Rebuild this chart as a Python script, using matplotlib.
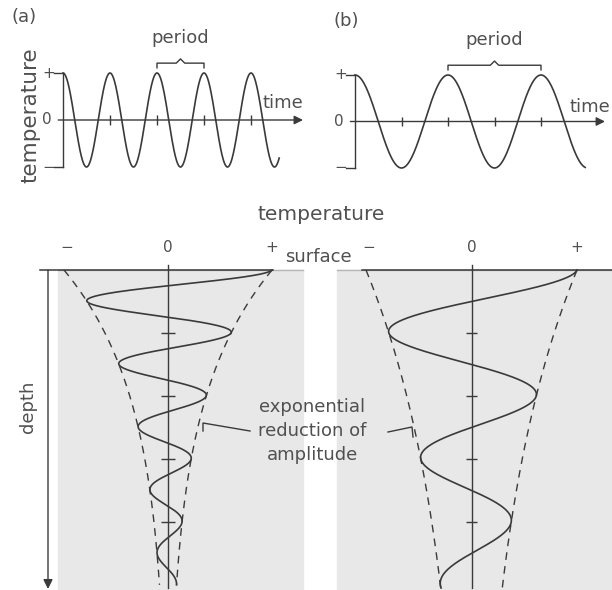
import numpy as np
import matplotlib.pyplot as plt
from matplotlib.patches import Rectangle

W, H = 612, 590

# surface temperature against time (time measured in short periods)
period_a = 1.0
period_b = 2.0
time_end_a = 4.6
time_end_b = 4.95
time_ticks_a = [1, 2, 3, 4]
time_ticks_b = [1, 2, 3, 4]
bracket_a = [2, 3]
bracket_b = [2, 4]

# temperature against depth (depth in tick units, temperature relative to surface amplitude)
wavelength_a = 1.0
wavelength_b = 2.0
decay_a = 2.0
decay_b = 4.1
depth_end_a = 5.0
depth_end_b = 5.05
depth_ticks = [1, 2, 3, 4]

ink = '#3a3a3a'
txt = '#505050'
shade = '#e8e8e8'

fig = plt.figure(figsize=(W / 100, H / 100), dpi=100)


def box(x0, y0, x1, y1):
    # axes placed by a pixel box measured from the top-left corner
    return fig.add_axes([x0 / W, 1 - y1 / H, (x1 - x0) / W, (y1 - y0) / H])


bg = box(0, 0, W, H)
bg.set_xlim(0, W)
bg.set_ylim(H, 0)
bg.axis('off')

# shaded ground below the surface
for x0, x1 in [(58, 303), (337, 612)]:
    bg.add_patch(Rectangle((x0, 270), x1 - x0, 320, color=shade, zorder=0))
    bg.plot([x0, x1], [270, 270], color='#b5b5b5', lw=1, zorder=1)


def time_panel(ax, period, t_end, ticks, bracket, xmax):
    ax.set_xlim(0, xmax)
    ax.set_ylim(-1, 1)
    ax.axis('off')
    kw = dict(color=ink, lw=1.0, clip_on=False)
    t = np.linspace(0, t_end, 500)
    ax.plot(t, np.cos(2 * np.pi * t / period), color=ink, lw=1.2, clip_on=False)
    ax.plot([0, 0], [-1, 1], **kw)
    ax.plot([-0.2, 0], [1, 1], **kw)
    ax.plot([-0.2, 0], [-1, -1], **kw)
    ax.annotate('', xy=(xmax, 0), xytext=(-0.1, 0), annotation_clip=False,
                arrowprops=dict(arrowstyle='-|>', color=ink, lw=1.0,
                                mutation_scale=13, shrinkA=0, shrinkB=0))
    ax.vlines(ticks, -0.1, 0.1, color=ink, lw=1.0)
    ax.text(-0.3, 1.0, '+', ha='center', va='center', color=txt, fontsize=11)
    ax.text(-0.35, 0.0, '0', ha='center', va='center', color=txt, fontsize=11)
    ax.text(-0.3, -1.0, '\u2212', ha='center', va='center', color=txt, fontsize=11)
    # brace marking one period
    t0, t1 = bracket
    tm = (t0 + t1) / 2
    ax.plot([t0, t0, tm - 0.09, tm, tm + 0.09, t1, t1],
            [1.11, 1.21, 1.21, 1.30, 1.21, 1.21, 1.11], **kw)
    ax.text(tm, 1.55, 'period', ha='center', va='bottom', color=txt, fontsize=13)


ax_a = box(63, 73, 303, 167)
time_panel(ax_a, period_a, time_end_a, time_ticks_a, bracket_a, 240 / 47)
ax_b = box(355, 75, 605, 168)
time_panel(ax_b, period_b, time_end_b, time_ticks_b, bracket_b, 250 / 46.5)

bg.text(24, 17, '(a)', ha='center', va='center', color=txt, fontsize=13)
bg.text(346, 21, '(b)', ha='center', va='center', color=txt, fontsize=13)
bg.text(30, 115, 'temperature', rotation=90, ha='center', va='center', color=txt, fontsize=15.5)
bg.text(283, 103, 'time', ha='center', va='center', color=txt, fontsize=13)
bg.text(590, 107, 'time', ha='center', va='center', color=txt, fontsize=13)


def depth_panel(ax, wavelength, decay, z_end, tick_half):
    ax.set_xlim(-1, 1)
    ax.set_ylim(5.05, 0)
    ax.axis('off')
    z = np.linspace(0, z_end, 800)
    env = np.exp(-z / decay)
    ax.plot(env * np.cos(2 * np.pi * z / wavelength), z, color=ink, lw=1.2, clip_on=False)
    for side in (1, -1):
        ax.plot(side * env, z, color=ink, lw=1.0, dashes=(5.5, 4.5), clip_on=False)
    ax.plot([0, 0], [-0.08, 5.05], color=ink, lw=1.0, clip_on=False)
    ax.hlines(depth_ticks, -tick_half, tick_half, color=ink, lw=1.0)
    for x, s in zip([-0.97, 0, 1], ['\u2212', '0', '+']):
        ax.text(x, -0.36, s, ha='center', va='center', color=txt, fontsize=11)


ax_c = box(64, 270, 272, 588)
depth_panel(ax_c, wavelength_a, decay_a, depth_end_a, 0.07)
ax_d = box(366, 270, 577, 588)
depth_panel(ax_d, wavelength_b, decay_b, depth_end_b, 0.05)

# surface line and depth arrow
bg.plot([40, 273], [270, 270], color=ink, lw=1.1, zorder=2)
bg.plot([362, 612], [270, 270], color=ink, lw=1.1, zorder=2)
bg.annotate('', xy=(48, 589), xytext=(48, 270),
            arrowprops=dict(arrowstyle='-|>', color=ink, lw=1.0,
                            mutation_scale=14, shrinkA=0, shrinkB=0))
bg.text(28, 407, 'depth', rotation=90, ha='center', va='center', color=txt, fontsize=13)

bg.text(321, 215, 'temperature', ha='center', va='center', color=txt, fontsize=14.5)
bg.text(352, 257, 'surface', ha='right', va='center', color=txt, fontsize=13)

bg.text(312, 431, 'exponential\nreduction of\namplitude', ha='center', va='center',
        multialignment='center', linespacing=1.45, color=txt, fontsize=13)
bg.plot([250, 203, 203], [431, 423, 431], color=ink, lw=1.0)
bg.plot([388, 412, 413], [432, 427, 437], color=ink, lw=1.0)

fig.savefig('out.png', dpi=100)
